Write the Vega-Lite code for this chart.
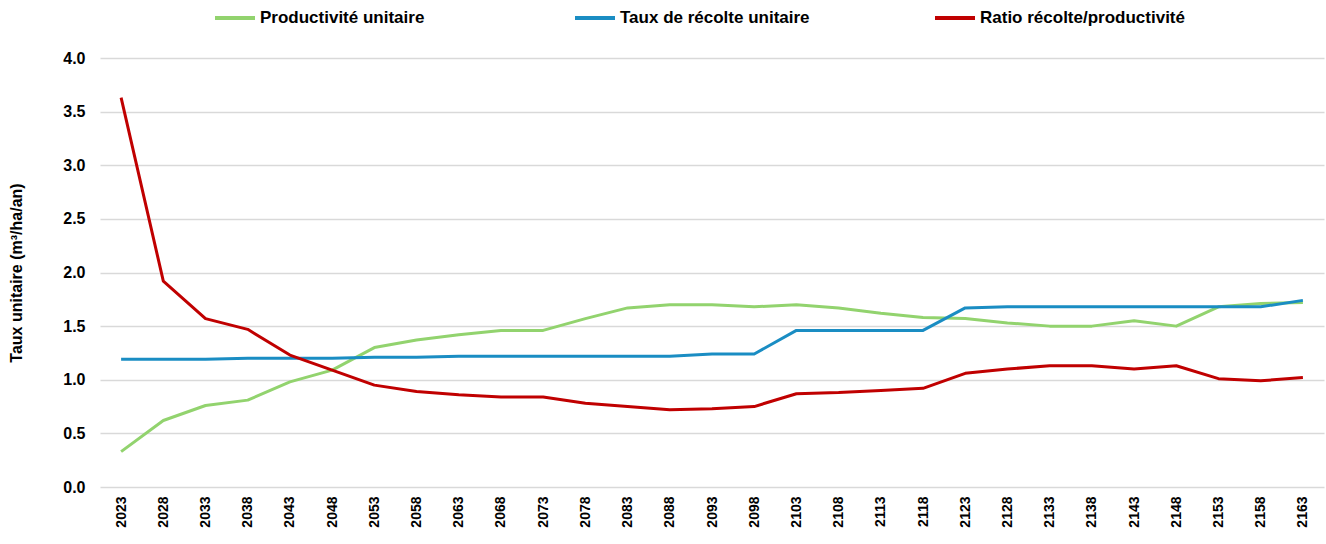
{
  "$schema": "https://vega.github.io/schema/vega-lite/v6.json",
  "width": 1224,
  "height": 429,
  "autosize": {"type": "none"},
  "padding": {"left": 100, "top": 58, "right": 2, "bottom": 57},
  "background": "white",
  "data": {
    "values": [
      {"annee": "2023", "serie": "Productivité unitaire", "valeur": 0.33},
      {"annee": "2028", "serie": "Productivité unitaire", "valeur": 0.62},
      {"annee": "2033", "serie": "Productivité unitaire", "valeur": 0.76},
      {"annee": "2038", "serie": "Productivité unitaire", "valeur": 0.81},
      {"annee": "2043", "serie": "Productivité unitaire", "valeur": 0.98},
      {"annee": "2048", "serie": "Productivité unitaire", "valeur": 1.09},
      {"annee": "2053", "serie": "Productivité unitaire", "valeur": 1.30},
      {"annee": "2058", "serie": "Productivité unitaire", "valeur": 1.37},
      {"annee": "2063", "serie": "Productivité unitaire", "valeur": 1.42},
      {"annee": "2068", "serie": "Productivité unitaire", "valeur": 1.46},
      {"annee": "2073", "serie": "Productivité unitaire", "valeur": 1.46},
      {"annee": "2078", "serie": "Productivité unitaire", "valeur": 1.57},
      {"annee": "2083", "serie": "Productivité unitaire", "valeur": 1.67},
      {"annee": "2088", "serie": "Productivité unitaire", "valeur": 1.70},
      {"annee": "2093", "serie": "Productivité unitaire", "valeur": 1.70},
      {"annee": "2098", "serie": "Productivité unitaire", "valeur": 1.68},
      {"annee": "2103", "serie": "Productivité unitaire", "valeur": 1.70},
      {"annee": "2108", "serie": "Productivité unitaire", "valeur": 1.67},
      {"annee": "2113", "serie": "Productivité unitaire", "valeur": 1.62},
      {"annee": "2118", "serie": "Productivité unitaire", "valeur": 1.58},
      {"annee": "2123", "serie": "Productivité unitaire", "valeur": 1.57},
      {"annee": "2128", "serie": "Productivité unitaire", "valeur": 1.53},
      {"annee": "2133", "serie": "Productivité unitaire", "valeur": 1.50},
      {"annee": "2138", "serie": "Productivité unitaire", "valeur": 1.50},
      {"annee": "2143", "serie": "Productivité unitaire", "valeur": 1.55},
      {"annee": "2148", "serie": "Productivité unitaire", "valeur": 1.50},
      {"annee": "2153", "serie": "Productivité unitaire", "valeur": 1.68},
      {"annee": "2158", "serie": "Productivité unitaire", "valeur": 1.71},
      {"annee": "2163", "serie": "Productivité unitaire", "valeur": 1.72},
      {"annee": "2023", "serie": "Taux de récolte unitaire", "valeur": 1.19},
      {"annee": "2028", "serie": "Taux de récolte unitaire", "valeur": 1.19},
      {"annee": "2033", "serie": "Taux de récolte unitaire", "valeur": 1.19},
      {"annee": "2038", "serie": "Taux de récolte unitaire", "valeur": 1.20},
      {"annee": "2043", "serie": "Taux de récolte unitaire", "valeur": 1.20},
      {"annee": "2048", "serie": "Taux de récolte unitaire", "valeur": 1.20},
      {"annee": "2053", "serie": "Taux de récolte unitaire", "valeur": 1.21},
      {"annee": "2058", "serie": "Taux de récolte unitaire", "valeur": 1.21},
      {"annee": "2063", "serie": "Taux de récolte unitaire", "valeur": 1.22},
      {"annee": "2068", "serie": "Taux de récolte unitaire", "valeur": 1.22},
      {"annee": "2073", "serie": "Taux de récolte unitaire", "valeur": 1.22},
      {"annee": "2078", "serie": "Taux de récolte unitaire", "valeur": 1.22},
      {"annee": "2083", "serie": "Taux de récolte unitaire", "valeur": 1.22},
      {"annee": "2088", "serie": "Taux de récolte unitaire", "valeur": 1.22},
      {"annee": "2093", "serie": "Taux de récolte unitaire", "valeur": 1.24},
      {"annee": "2098", "serie": "Taux de récolte unitaire", "valeur": 1.24},
      {"annee": "2103", "serie": "Taux de récolte unitaire", "valeur": 1.46},
      {"annee": "2108", "serie": "Taux de récolte unitaire", "valeur": 1.46},
      {"annee": "2113", "serie": "Taux de récolte unitaire", "valeur": 1.46},
      {"annee": "2118", "serie": "Taux de récolte unitaire", "valeur": 1.46},
      {"annee": "2123", "serie": "Taux de récolte unitaire", "valeur": 1.67},
      {"annee": "2128", "serie": "Taux de récolte unitaire", "valeur": 1.68},
      {"annee": "2133", "serie": "Taux de récolte unitaire", "valeur": 1.68},
      {"annee": "2138", "serie": "Taux de récolte unitaire", "valeur": 1.68},
      {"annee": "2143", "serie": "Taux de récolte unitaire", "valeur": 1.68},
      {"annee": "2148", "serie": "Taux de récolte unitaire", "valeur": 1.68},
      {"annee": "2153", "serie": "Taux de récolte unitaire", "valeur": 1.68},
      {"annee": "2158", "serie": "Taux de récolte unitaire", "valeur": 1.68},
      {"annee": "2163", "serie": "Taux de récolte unitaire", "valeur": 1.74},
      {"annee": "2023", "serie": "Ratio récolte/productivité", "valeur": 3.63},
      {"annee": "2028", "serie": "Ratio récolte/productivité", "valeur": 1.92},
      {"annee": "2033", "serie": "Ratio récolte/productivité", "valeur": 1.57},
      {"annee": "2038", "serie": "Ratio récolte/productivité", "valeur": 1.47},
      {"annee": "2043", "serie": "Ratio récolte/productivité", "valeur": 1.23},
      {"annee": "2048", "serie": "Ratio récolte/productivité", "valeur": 1.09},
      {"annee": "2053", "serie": "Ratio récolte/productivité", "valeur": 0.95},
      {"annee": "2058", "serie": "Ratio récolte/productivité", "valeur": 0.89},
      {"annee": "2063", "serie": "Ratio récolte/productivité", "valeur": 0.86},
      {"annee": "2068", "serie": "Ratio récolte/productivité", "valeur": 0.84},
      {"annee": "2073", "serie": "Ratio récolte/productivité", "valeur": 0.84},
      {"annee": "2078", "serie": "Ratio récolte/productivité", "valeur": 0.78},
      {"annee": "2083", "serie": "Ratio récolte/productivité", "valeur": 0.75},
      {"annee": "2088", "serie": "Ratio récolte/productivité", "valeur": 0.72},
      {"annee": "2093", "serie": "Ratio récolte/productivité", "valeur": 0.73},
      {"annee": "2098", "serie": "Ratio récolte/productivité", "valeur": 0.75},
      {"annee": "2103", "serie": "Ratio récolte/productivité", "valeur": 0.87},
      {"annee": "2108", "serie": "Ratio récolte/productivité", "valeur": 0.88},
      {"annee": "2113", "serie": "Ratio récolte/productivité", "valeur": 0.90},
      {"annee": "2118", "serie": "Ratio récolte/productivité", "valeur": 0.92},
      {"annee": "2123", "serie": "Ratio récolte/productivité", "valeur": 1.06},
      {"annee": "2128", "serie": "Ratio récolte/productivité", "valeur": 1.10},
      {"annee": "2133", "serie": "Ratio récolte/productivité", "valeur": 1.13},
      {"annee": "2138", "serie": "Ratio récolte/productivité", "valeur": 1.13},
      {"annee": "2143", "serie": "Ratio récolte/productivité", "valeur": 1.10},
      {"annee": "2148", "serie": "Ratio récolte/productivité", "valeur": 1.13},
      {"annee": "2153", "serie": "Ratio récolte/productivité", "valeur": 1.01},
      {"annee": "2158", "serie": "Ratio récolte/productivité", "valeur": 0.99},
      {"annee": "2163", "serie": "Ratio récolte/productivité", "valeur": 1.02}
    ]
  },
  "mark": {"type": "line", "strokeWidth": 3, "strokeJoin": "round"},
  "encoding": {
    "x": {
      "field": "annee",
      "type": "ordinal",
      "sort": null,
      "scale": {"type": "point", "padding": 0.5},
      "axis": {
        "title": null,
        "labelAngle": -90,
        "labelAlign": "right",
        "labelBaseline": "middle",
        "labelFont": "Liberation Sans",
        "labelFontWeight": "bold",
        "labelFontSize": 14,
        "labelColor": "#000000",
        "labelPadding": 9,
        "domain": false,
        "ticks": false,
        "grid": false
      }
    },
    "y": {
      "field": "valeur",
      "type": "quantitative",
      "scale": {"domain": [0, 4], "nice": false},
      "axis": {
        "title": "Taux unitaire (m³/ha/an)",
        "titleFont": "Liberation Sans",
        "titleFontWeight": "bold",
        "titleFontSize": 16,
        "titleColor": "#000000",
        "titlePadding": 38,
        "values": [0, 0.5, 1, 1.5, 2, 2.5, 3, 3.5, 4],
        "format": ".1f",
        "labelFont": "Liberation Sans",
        "labelFontWeight": "bold",
        "labelFontSize": 16,
        "labelColor": "#000000",
        "labelPadding": 15,
        "domain": false,
        "ticks": false,
        "grid": true,
        "gridColor": "#d9d9d9",
        "gridWidth": 1.5
      }
    },
    "color": {
      "field": "serie",
      "type": "nominal",
      "sort": ["Productivité unitaire", "Taux de récolte unitaire", "Ratio récolte/productivité"],
      "scale": {
        "domain": ["Productivité unitaire", "Taux de récolte unitaire", "Ratio récolte/productivité"],
        "range": ["#92D36E", "#1A8DC3", "#C00000"]
      },
      "legend": {
        "title": null,
        "orient": "none",
        "direction": "horizontal",
        "legendX": 113,
        "legendY": -62,
        "gridAlign": "all",
        "symbolType": "stroke",
        "symbolStrokeWidth": 4,
        "symbolSize": 1600,
        "labelFont": "Liberation Sans",
        "labelFontWeight": "bold",
        "labelFontSize": 17,
        "labelLimit": 0,
        "labelColor": "#000000",
        "labelOffset": 3,
        "columnPadding": 102
      }
    }
  },
  "config": {
    "view": {"stroke": null}
  }
}
